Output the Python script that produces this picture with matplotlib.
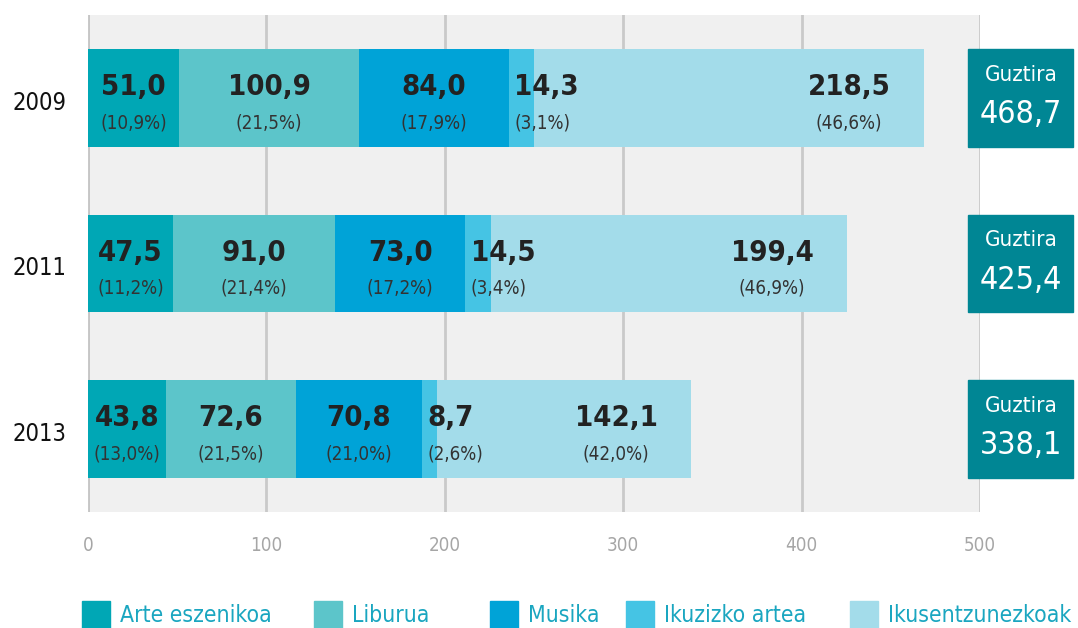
import matplotlib.pyplot as plt
from matplotlib.patches import Rectangle
from matplotlib.transforms import blended_transform_factory

plt.rcParams['font.family'] = ['DejaVu Sans']
plt.rcParams['font.stretch'] = 'condensed'

years = ['2009', '2011', '2013']
categories = ['Arte eszenikoa', 'Liburua', 'Musika', 'Ikuzizko artea', 'Ikusentzunezkoak']
values = [
    [51.0, 47.5, 43.8],
    [100.9, 91.0, 72.6],
    [84.0, 73.0, 70.8],
    [14.3, 14.5, 8.7],
    [218.5, 199.4, 142.1],
]
shares = [
    [10.9, 11.2, 13.0],
    [21.5, 21.4, 21.5],
    [17.9, 17.2, 21.0],
    [3.1, 3.4, 2.6],
    [46.6, 46.9, 42.0],
]
totals = [468.7, 425.4, 338.1]
colors = ['#00a7b5', '#5cc5ca', '#00a3d7', '#45c4e4', '#a3dcea']
box_color = '#008694'


def fmt(v):
    return f'{v:.1f}'.replace('.', ',')


fig = plt.figure(figsize=(10.78, 6.28), dpi=100)
W, H = 1078, 628
ax = fig.add_axes([88 / W, 1 - 512 / H, 892 / W, 497 / H])
ax.set_facecolor('#f0f0f0')

ypos = range(len(years))
left = [0.0] * len(years)
for i, cat in enumerate(categories):
    ax.barh(ypos, values[i], left=left, height=0.59, color=colors[i], zorder=2)
    for j in ypos:
        v = values[i][j]
        start = left[j]
        if i == 3:
            x, ha = start + 3, 'left'
        elif i == 4:
            x, ha = start + v - 42, 'center'
        else:
            x, ha = start + v / 2, 'center'
        ax.text(x, j - 0.065, fmt(v), ha=ha, va='center', fontsize=21,
                fontweight='bold', color='#222222', zorder=3)
        ax.text(x, j + 0.15, f'({fmt(shares[i][j])}%)', ha=ha, va='center',
                fontsize=13.5, color='#333333', zorder=3)
    left = [l + v for l, v in zip(left, values[i])]

ax.set_xlim(0, 500)
ax.set_ylim(2.5, -0.5)
ax.set_xticks([0, 100, 200, 300, 400, 500])
ax.set_yticks([])
ax.tick_params(axis='both', length=0)
ax.tick_params(axis='x', pad=17, labelsize=13.5, labelcolor='#a6a6a6')
ax.grid(axis='x', color='#c9c9c9', linewidth=2, zorder=1)
for s in ax.spines.values():
    s.set_visible(False)
ax.axvline(0, color='#aaaaaa', linewidth=2, zorder=1)

tr = blended_transform_factory(ax.transAxes, ax.transData)
for j, yr in enumerate(years):
    ax.text(-76 / 892, j + 0.03, yr, transform=tr, ha='left', va='center',
            fontsize=17, fontweight='medium', color='#111111', clip_on=False)

# Guztira boxes
for j, tot in enumerate(totals):
    ax.add_patch(Rectangle((880 / 892, j - 0.295), 105 / 892, 0.59, transform=tr,
                           color=box_color, clip_on=False, zorder=4))
    ax.text(933 / 892, j - 0.14, 'Guztira', transform=tr, ha='center', va='center',
            color='white', fontsize=16, zorder=5, clip_on=False)
    ax.text(933 / 892, j + 0.1, fmt(tot), transform=tr, ha='center', va='center',
            color='white', fontsize=23, zorder=5, clip_on=False)

# legend
legend_x = [82, 314, 490, 626, 850]
for c, name, lx in zip(colors, categories, legend_x):
    fig.patches.append(Rectangle((lx / W, 1 - 629 / H), 28 / W, 28 / H,
                                 transform=fig.transFigure, color=c))
    fig.text((lx + 38) / W, 1 - 615 / H, name, ha='left', va='center',
             fontsize=16.5, color='#1aa6c0')

fig.savefig('out.png', dpi=100)
